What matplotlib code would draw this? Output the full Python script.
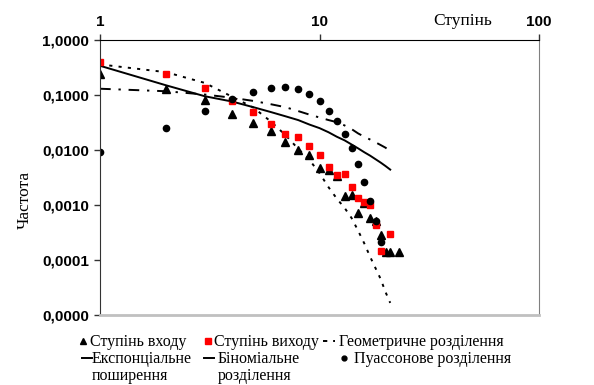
import matplotlib
matplotlib.use("Agg")
import matplotlib.pyplot as plt
from matplotlib.lines import Line2D
from matplotlib.ticker import FixedLocator, FuncFormatter, NullLocator

# Degree distribution data (degree k -> frequency)
k_in = [1, 2, 3, 4, 5, 6, 7, 8, 9, 10, 11, 12, 13, 14, 15, 16, 17, 18, 19, 20, 21, 23]
in_freq = [0.24, 0.127, 0.081, 0.046, 0.0306, 0.0224, 0.0138, 0.010, 0.0081, 0.0047, 0.0043,
           0.0033, 0.00145, 0.00155, 0.00072, 0.0011, 0.00057, 0.00052, 0.000285,
           0.00014, 0.00014, 0.00014]

k_out = [1, 2, 3, 4, 5, 6, 7, 8, 9, 10, 11, 12, 13, 14, 15, 16, 17, 18, 19, 21]
out_freq = [0.39, 0.24, 0.136, 0.079, 0.050, 0.030, 0.0194, 0.0174, 0.0118, 0.0081, 0.0050,
            0.0035, 0.0037, 0.0021, 0.00132, 0.00115, 0.0010, 0.00043, 0.000145, 0.00030]

k_fit = list(range(1, 22))
geom = [0.36, 0.26, 0.166, 0.093, 0.059, 0.033, 0.0186, 0.0105, 0.0066, 0.0038, 0.0021,
        0.0013, 0.00089, 0.00058, 0.00034, 0.0002, 0.000115, 7.1e-5, 4.5e-5, 2.6e-5, 1.66e-5]
expo = [0.13, 0.117, 0.102, 0.089, 0.078, 0.068, 0.060, 0.051, 0.044, 0.039, 0.035,
        0.032, 0.028, 0.024, 0.020, 0.0174, 0.0155, 0.0138, 0.0123, 0.011, 0.0095]
binom = [0.34, 0.15, 0.095, 0.076, 0.060, 0.049, 0.041, 0.035, 0.029, 0.025, 0.021,
         0.0174, 0.015, 0.0126, 0.0107, 0.0091, 0.0079, 0.0068, 0.0059, 0.0051, 0.0044]

k_pois = list(range(1, 20))
pois = [0.0093, 0.025, 0.052, 0.083, 0.115, 0.136, 0.142, 0.127, 0.104, 0.078, 0.052,
        0.034, 0.0195, 0.0107, 0.0055, 0.0026, 0.00118, 0.00052, 0.00021]

y_ticks = [1.0, 0.1, 0.01, 0.001, 0.0001, 0.00001]
x_ticks = [1, 10, 100]

serif = "Liberation Serif"
sans = "Liberation Sans"

geom_ls = (0, (1.6, 3.2))
expo_ls = (0, (5.5, 4, 1.2, 4))

fig = plt.figure(figsize=(5.94, 3.85), dpi=100)
ax = fig.add_axes([100 / 594, 1 - 315 / 385, 439 / 594, 275 / 385])

ax.plot(k_fit, geom, color="black", lw=1.4, ls=geom_ls)
ax.plot(k_fit, expo, color="black", lw=1.4, ls=expo_ls)
ax.plot(k_fit, binom, color="black", lw=1.4, ls="-")
ax.plot(k_in, in_freq, ls="none", marker="^", ms=5.5, color="black")
ax.plot(k_out, out_freq, ls="none", marker="s", ms=5, color="#ff0000", mec="#ff0000")
ax.plot(k_pois, pois, ls="none", marker="o", ms=4.5, color="black")

ax.set_xscale("log")
ax.set_yscale("log")
ax.set_xlim(1, 100)
ax.set_ylim(1e-5, 1)

ax.xaxis.set_major_locator(FixedLocator(x_ticks))
ax.xaxis.set_minor_locator(NullLocator())
ax.xaxis.set_major_formatter(FuncFormatter(lambda v, p: f"{v:g}"))
ax.xaxis.tick_top()
ax.yaxis.set_major_locator(FixedLocator(y_ticks))
ax.yaxis.set_minor_locator(NullLocator())
ax.yaxis.set_major_formatter(FuncFormatter(lambda v, p: f"{v:.4f}".replace(".", ",")))

ax.tick_params(axis="both", direction="out", length=4, width=1, color="#333333",
               labelsize=11, pad=4)
for lab in ax.get_xticklabels() + ax.get_yticklabels():
    lab.set_fontfamily(sans)
    lab.set_fontweight("bold")

ax.spines["top"].set_color("black")
ax.spines["left"].set_color("#333333")
ax.spines["right"].set_color("#808080")
ax.spines["bottom"].set_color("#c0c0c0")
ax.spines["bottom"].set_linewidth(2)

fig.text(463 / 594, 1 - 21 / 385, "Ступінь", family=serif, fontsize=12.5,
         ha="center", va="center")
fig.text(25 / 594, 1 - 200 / 385, "Частота", family=serif, fontsize=12.5,
         rotation=90, ha="center", va="center")


# legend keys under the plot, laid out in pixel coordinates
def key(x, y, width=10, **kw):
    fx, fy = x / 594, 1 - y / 385
    if "marker" in kw:
        fig.add_artist(Line2D([fx], [fy], ls="none", transform=fig.transFigure, **kw))
    else:
        half = width / 2 / 594
        fig.add_artist(Line2D([fx - half, fx + half], [fy, fy],
                              transform=fig.transFigure, color="black", **kw))


def label(x, y, s):
    # y is the middle of the first text line
    fig.text(x / 594, 1 - (y - 6) / 385, s, family=serif, fontsize=11.5,
             ha="left", va="top", linespacing=1.05)


key(83, 341, marker="^", ms=4, color="black")
label(90, 340, "Ступінь входу")
key(208, 341, marker="s", ms=4, color="#ff0000")
label(214, 340, "Ступінь виходу")
key(329, 341, width=12, lw=1.4, ls=(0, (2.2, 3)))
label(339, 340, "Геометричне розділення")
key(87, 358, lw=1.4, ls="-")
label(92, 357, "Експонціальне\nпоширення")
key(209, 358, lw=1.4, ls="-")
label(218, 357, "Біноміальне\nрозділення")
key(344, 358, marker="o", ms=3.5, color="black")
label(354, 357, "Пуассонове розділення")

fig.savefig("out.png", dpi=100)
